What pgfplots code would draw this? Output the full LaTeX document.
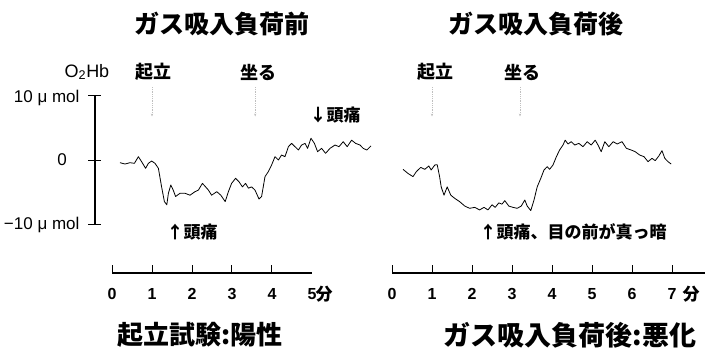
\documentclass[border=0pt]{standalone}
\usepackage{pgfplots}
\pgfplotsset{compat=1.18}
\usepackage{fontspec}
\setmainfont{Liberation Sans}
\newfontfamily\jp{Noto Sans CJK JP}
\usetikzlibrary{arrows.meta}
\begin{document}
\begin{tikzpicture}
\useasboundingbox (0,0) rectangle (707pt,354pt);
% ---------------- left panel ----------------
\begin{axis}[hide axis, x=40pt, y=6.4pt, xmin=-2.5, xmax=6.8, ymin=-20, ymax=12,
  anchor=south west, at={(12pt,66pt)}, clip=false, unbounded coords=jump]
\addplot[black, line width=0.8pt, line join=round] coordinates {
(0.2,-0.42)(0.325,-0.63)(0.45,-0.42)(0.56,-0.52)(0.66,0.52)(0.74,-0.26)(0.84,-1.3)(0.91,-0.52)(0.99,-0.16)(1.075,-0.52)(1.16,-1.3)(1.24,-4.2)(1.31,-6.5)(1.37,-7.0)(1.41,-5.2)(1.47,-3.9)(1.53,-4.7)(1.59,-5.7)(1.7,-5.2)(1.825,-5.2)(1.95,-5.5)(2.075,-4.95)(2.16,-4.7)(2.26,-3.65)(2.34,-4.2)(2.41,-4.7)(2.49,-5.5)(2.62,-4.95)(2.72,-5.5)(2.83,-6.5)(2.91,-4.95)(2.99,-3.65)(3.09,-2.86)(3.175,-3.4)(3.26,-4.2)(3.34,-3.65)(3.41,-4.4)(3.49,-4.2)(3.575,-4.7)(3.675,-6.1)(3.74,-5.7)(3.825,-2.6)(3.91,-1.8)(3.99,-0.78)(4.075,0.52)(4.16,0)(4.24,0.78)(4.325,0.52)(4.41,2.08)(4.49,2.6)(4.575,2.08)(4.66,1.56)(4.74,2.34)(4.825,2.6)(4.89,1.82)(4.975,3.4)(5.06,2.6)(5.14,1.3)(5.24,1.82)(5.34,1.04)(5.45,1.82)(5.575,2.34)(5.675,2.08)(5.78,2.86)(5.88,2.08)(5.99,3.1)(6.09,2.6)(6.2,2.34)(6.28,1.82)(6.37,1.56)(6.475,2.2)};
% x scale bar
\addplot[black, line width=1.1pt] coordinates {(0,-17.66)(5,-17.66)};
\addplot[black, line width=1pt] coordinates {(0,-17.66)(0,-16.4)(nan,nan)(1,-17.66)(1,-16.4)(nan,nan)(2,-17.66)(2,-16.4)(nan,nan)(3,-17.66)(3,-16.4)(nan,nan)(4,-17.66)(4,-16.4)};
% y scale bar
\addplot[black, line width=1.2pt] coordinates {(-0.425,-10)(-0.425,10)};
\addplot[black, line width=1pt] coordinates {(-0.6,10)(-0.275,10)(nan,nan)(-0.6,0)(-0.275,0)(nan,nan)(-0.6,-10)(-0.275,-10)};
% event arrows
\addplot[gray!50, densely dotted, line width=0.8pt, -{Stealth[length=3pt]}] coordinates {(1.0,11.4)(1.0,6.8)};
\addplot[gray!50, densely dotted, line width=0.8pt, -{Stealth[length=3pt]}] coordinates {(3.58,11.4)(3.58,6.8)};
\end{axis}
% ---------------- right panel ----------------
\begin{axis}[hide axis, x=40pt, y=6.4pt, xmin=-0.5, xmax=7.8, ymin=-20, ymax=12,
  anchor=south west, at={(372pt,66pt)}, clip=false, unbounded coords=jump]
\addplot[black, line width=0.8pt, line join=round] coordinates {
(0.275,-1.46)(0.4,-2.1)(0.525,-2.6)(0.61,-1.8)(0.72,-1.15)(0.82,-1.46)(0.92,-0.94)(0.98,-1.56)(1.07,-0.78)(1.13,-0.73)(1.19,-2.6)(1.23,-4.2)(1.3,-5.5)(1.38,-4.2)(1.47,-5.5)(1.57,-6.0)(1.69,-6.5)(1.82,-7.2)(1.94,-7.55)(2.07,-7.4)(2.19,-7.8)(2.3,-7.4)(2.4,-7.8)(2.5,-7.0)(2.58,-7.4)(2.67,-6.7)(2.75,-6.9)(2.82,-6.35)(2.92,-7.2)(3.025,-7.4)(3.13,-7.55)(3.23,-7.2)(3.32,-6.25)(3.38,-7.2)(3.47,-7.9)(3.55,-6.25)(3.63,-4.2)(3.72,-2.86)(3.8,-1.56)(3.88,-1.04)(3.94,-1.46)(4.025,-0.78)(4.11,0.52)(4.19,1.56)(4.275,2.34)(4.33,3.1)(4.4,2.5)(4.48,2.86)(4.57,2.34)(4.67,2.6)(4.775,2.08)(4.88,2.86)(4.98,2.34)(5.08,3.1)(5.15,2.34)(5.23,1.3)(5.32,2.86)(5.42,2.08)(5.53,2.86)(5.63,2.5)(5.75,2.86)(5.86,1.82)(5.98,1.56)(6.08,1.3)(6.19,0.78)(6.3,0.52)(6.4,-0.26)(6.5,0.26)(6.58,-0.1)(6.67,0.62)(6.75,1.46)(6.82,0.26)(6.9,-0.26)(6.98,-0.63)};
% x scale bar
\addplot[black, line width=1.1pt] coordinates {(0,-17.66)(7.82,-17.66)};
\addplot[black, line width=1pt] coordinates {(0,-17.66)(0,-16.4)(nan,nan)(1,-17.66)(1,-16.4)(nan,nan)(2,-17.66)(2,-16.4)(nan,nan)(3,-17.66)(3,-16.4)(nan,nan)(4,-17.66)(4,-16.4)(nan,nan)(5,-17.66)(5,-16.4)(nan,nan)(6,-17.66)(6,-16.4)(nan,nan)(7,-17.66)(7,-16.4)};
% event arrows
\addplot[gray!50, densely dotted, line width=0.8pt, -{Stealth[length=3pt]}] coordinates {(1.0,11.4)(1.0,6.8)};
\addplot[gray!50, densely dotted, line width=0.8pt, -{Stealth[length=3pt]}] coordinates {(3.2,11.4)(3.2,6.8)};
\end{axis}
% ---------------- texts ----------------
\node[font=\jp\bfseries\fontsize{25}{25}\selectfont] at (222pt,330pt) {ガス吸入負荷前};
\node[font=\jp\bfseries\fontsize{25}{25}\selectfont] at (536pt,330pt) {ガス吸入負荷後};
\node[font=\jp\bfseries\fontsize{26}{26}\selectfont] at (200pt,19pt) {起立試験:陽性};
\node[font=\jp\bfseries\fontsize{27}{27}\selectfont] at (570pt,19pt) {ガス吸入負荷後:悪化};
\node[font=\jp\bfseries\fontsize{18}{18}\selectfont] at (153pt,282pt) {起立};
\node[font=\jp\bfseries\fontsize{18}{18}\selectfont] at (258pt,282pt) {坐る};
\node[font=\jp\bfseries\fontsize{18}{18}\selectfont] at (435pt,282pt) {起立};
\node[font=\jp\bfseries\fontsize{18}{18}\selectfont] at (522pt,282pt) {坐る};
\node[font=\fontsize{18}{18}\selectfont] at (87pt,282pt) {O\textsubscript{2}Hb};
\node[font=\fontsize{17}{17}\selectfont, anchor=east] at (83pt,256pt) {10 μ mol};
\node[font=\fontsize{17}{17}\selectfont] at (62pt,194pt) {0};
\node[font=\fontsize{17}{17}\selectfont, anchor=east] at (83pt,129pt) {−10 μ mol};
\foreach \k in {0,...,5} {\node[font=\bfseries\fontsize{16}{16}\selectfont] at ({112+40*\k pt},60pt) {\k};}
\node[font=\jp\bfseries\fontsize{17}{17}\selectfont] at (324pt,60pt) {分};
\foreach \k in {0,...,7} {\node[font=\bfseries\fontsize{16}{16}\selectfont] at ({392+40*\k pt},60pt) {\k};}
\node[font=\jp\bfseries\fontsize{17}{17}\selectfont] at (691pt,60pt) {分};
\node[font=\jp\bfseries\fontsize{17}{17}\selectfont] at (335pt,239pt) {↓頭痛};
\node[font=\jp\bfseries\fontsize{17}{17}\selectfont] at (192pt,122pt) {↑頭痛};
\node[font=\jp\bfseries\fontsize{17}{17}\selectfont] at (573pt,122pt) {↑頭痛、目の前が真っ暗};
\end{tikzpicture}
\end{document}
